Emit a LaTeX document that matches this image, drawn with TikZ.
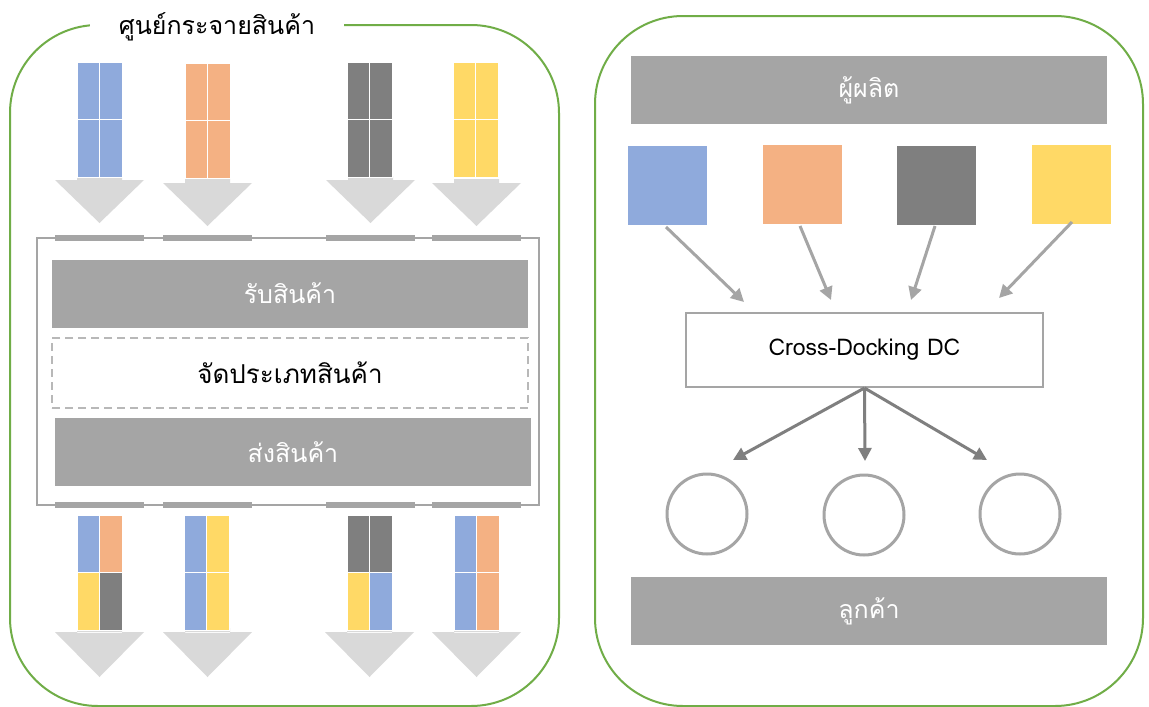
\documentclass[tikz,border=0pt]{standalone}
\usepackage{fontspec}
\newfontfamily\thai[Script=Thai]{Loma}
\usetikzlibrary{arrows.meta,calc}

\definecolor{cblue}{HTML}{8FAADC}
\definecolor{corange}{HTML}{F4B183}
\definecolor{cdark}{HTML}{7F7F7F}
\definecolor{cyellow}{HTML}{FFD966}
\definecolor{cbar}{HTML}{A5A5A5}
\definecolor{clight}{HTML}{D9D9D9}
\definecolor{cgreen}{HTML}{70AD47}

\tikzset{
  panel/.style={draw=cgreen, line width=2pt, rounded corners=88pt},
  bar/.style={fill=cbar, draw=none, minimum height=68pt, font=\thai\fontsize{25}{28}\selectfont, text=white},
  cell/.style={draw=white, line width=0.8pt},
  dock/.style={draw=none, fill=cbar},
  blockarrow/.style={fill=clight, draw=none},
  feed/.style={draw=cbar, line width=3pt, -{Triangle[length=13pt,width=13pt]}},
  spread/.style={draw=cdark, line width=3pt, -{Triangle[length=13pt,width=13pt]}},
  square/.style={minimum width=79pt, minimum height=79pt, draw=none, inner sep=0pt},
  cust/.style={circle, draw=cbar, line width=3pt, minimum size=80pt, inner sep=0pt},
}

\begin{document}
\begin{tikzpicture}[x=1pt,y=-1pt]
\useasboundingbox (0,0) rectangle (1149,707);
\fill[white] (0,0) rectangle (1149,707);

% ---- distribution centre panel ----
\draw[panel] (10,25) rectangle (559,706);
\node[fill=white, inner xsep=29pt, inner ysep=2pt, font=\thai\fontsize{25}{28}\selectfont] (title) at (217,27) {ศูนย์กระจายสินค้า};

% inbound and outbound block arrows
\foreach \xa/\ya in {55/180, 163/183, 326/180, 432/183}{
  \fill[blockarrow] (\xa+22,\ya-4) rectangle (\xa+67,\ya)
    (\xa,\ya) -- (\xa+89,\ya) -- (\xa+44.5,\ya+43) -- cycle;
}
\foreach \xa in {55,163,325,432}{
  \fill[blockarrow] (\xa+22,628) rectangle (\xa+67,633)
    (\xa,632) -- (\xa+89,632) -- (\xa+44.5,677) -- cycle;
}

% inbound pallets (2 x 2 cells)
\foreach \x/\y/\c in {77/62/cblue, 185/63/corange, 347/62/cdark, 453/62/cyellow}{
  \foreach \i in {0,1}{\foreach \j in {0,1}{
    \filldraw[cell, fill=\c] (\x+\i*22.5,\y+\j*57.5) rectangle ++(22.5,57.5);
  }}
}

% outbound mixed pallets
\foreach \x/\a/\b/\cc/\d in {77/cblue/corange/cyellow/cdark, 184/cblue/cyellow/cblue/cyellow, 347/cdark/cdark/cyellow/cblue, 454/cblue/corange/cblue/corange}{
  \filldraw[cell, fill=\a] (\x,515) rectangle ++(22.5,57.5);
  \filldraw[cell, fill=\b] (\x+22.5,515) rectangle ++(22.5,57.5);
  \filldraw[cell, fill=\cc] (\x,572.5) rectangle ++(22.5,57.5);
  \filldraw[cell, fill=\d] (\x+22.5,572.5) rectangle ++(22.5,57.5);
}

% warehouse building
\draw[cbar, line width=2pt] (37,238) rectangle (539,505);
\foreach \xa in {55,163,326,432}{
  \fill[dock] (\xa,235) rectangle (\xa+89,241);
  \fill[dock] (\xa,502) rectangle (\xa+89,508);
}

\node[bar, minimum width=476pt] (recv) at (290,293.5) {รับสินค้า};
\node[draw=clight!85!black, dash pattern=on 8pt off 5pt, line width=1.5pt, minimum width=476pt, minimum height=70pt,
      font=\thai\fontsize{26}{29}\selectfont] (sort) at (290,373) {จัดประเภทสินค้า};
\node[bar, minimum width=476pt] (ship) at (293,452) {ส่งสินค้า};

% ---- cross-docking panel ----
\draw[panel] (595,16) rectangle (1143,706);

\node[bar, minimum width=476pt] (prod) at (869,90) {ผู้ผลิต};
\node[bar, minimum width=476pt] (cus) at (869,611) {ลูกค้า};

\node[square, fill=cblue] (p1) at (667.5,185.5) {};
\node[square, fill=corange] (p2) at (802.5,184) {};
\node[square, fill=cdark] (p3) at (936.5,185.5) {};
\node[square, fill=cyellow] (p4) at (1071.5,184) {};

\node[draw=cbar, line width=2pt, minimum width=357pt, minimum height=74pt,
      font=\thai\fontsize{23}{26}\selectfont] (cd) at (864.5,350) {Cross-Docking DC};

\coordinate (t1) at (744,302);
\coordinate (t2) at (831,300);
\coordinate (t3) at (911,300);
\coordinate (t4) at (999,298);
\coordinate (s1) at (666,227);
\coordinate (s2) at (800,226);
\coordinate (s3) at (935,226);
\coordinate (s4) at (1072,222);
\draw[feed] (s1) -- (t1);
\draw[feed] (s2) -- (t2);
\draw[feed] (s3) -- (t3);
\draw[feed] (s4) -- (t4);

\node[cust] (c1) at (707,514) {};
\node[cust] (c2) at (864,515) {};
\node[cust] (c3) at (1020,514) {};

\coordinate (b1) at (733,460);
\coordinate (b2) at (865,461);
\coordinate (b3) at (987,460);
\draw[spread] (cd.south) -- (b1);
\draw[spread] (cd.south) -- (b2);
\draw[spread] (cd.south) -- (b3);
\end{tikzpicture}
\end{document}
